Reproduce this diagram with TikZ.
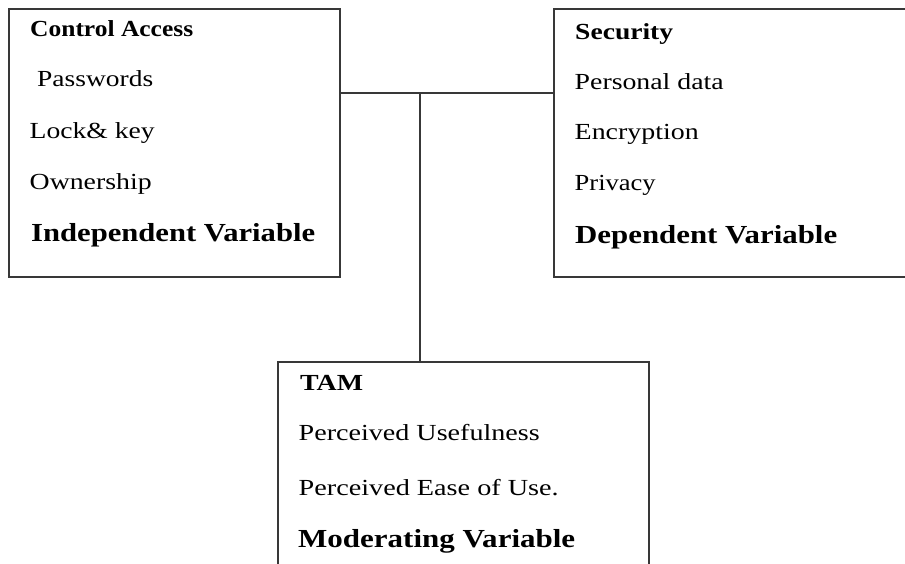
\documentclass[tikz,border=0pt]{standalone}
\usepackage{graphicx}
\usepackage{fontspec}
\setmainfont{Liberation Serif}
% stretch a line of text to a given width, keeping its height
\newcommand\wtext[2]{\resizebox{#1}{\height}{#2}}
\definecolor{edge}{HTML}{383838}
\tikzset{
  box/.style={draw=edge, line width=1.4pt, rectangle, inner sep=0pt},
  link/.style={draw=edge, line width=1.4pt},
  itm/.style={anchor=base west, inner sep=0pt, font=\fontsize{23}{27}\selectfont},
  hdr/.style={itm, font=\fontsize{23}{27}\selectfont\bfseries},
  var/.style={itm, font=\fontsize{26}{31}\selectfont\bfseries},
}
\begin{document}
\begin{tikzpicture}[x=1pt, y=1pt]
\useasboundingbox (0,0) rectangle (905,-563);
\clip (0,0) rectangle (905,-563);

% the three boxes
\node[box, minimum width=331pt, minimum height=268pt] (indep) at (174.5,-143) {};
\node[box, minimum width=450pt, minimum height=268pt] (dep) at (779,-143) {};
\node[box, minimum width=371pt, minimum height=260pt] (mod) at (463.5,-492) {};

% connectors
\coordinate (junc) at (420,-93);
\draw[link] (indep.east |- junc) -- (dep.west |- junc);
\draw[link] (junc) -- (mod.north -| junc);

% independent variable box
\node[hdr] (ca)  at (30,-36.7)  {\wtext{163pt}{Control Access}};
\node[itm] (pw)  at (37,-86.7)  {\wtext{116pt}{Passwords}};
\node[itm] (lk)  at (29.5,-138.3) {\wtext{125pt}{Lock\& key}};
\node[itm] (ow)  at (29.5,-189.3) {\wtext{122pt}{Ownership}};
\node[var] (iv)  at (31,-241.7) {\wtext{284pt}{Independent Variable}};

% dependent variable box
\node[hdr] (sec) at (575,-39)    {\wtext{98pt}{Security}};
\node[itm] (pd)  at (574.5,-89)  {\wtext{149pt}{Personal data}};
\node[itm] (enc) at (574.5,-139) {\wtext{124pt}{Encryption}};
\node[itm] (prv) at (574.5,-190.7) {\wtext{81pt}{Privacy}};
\node[var] (dv)  at (575,-243)   {\wtext{262pt}{Dependent Variable}};

% moderating variable box
\node[hdr] (tam) at (300,-390)   {\wtext{63pt}{TAM}};
\node[itm] (pu)  at (298.5,-440) {\wtext{241pt}{Perceived Usefulness}};
\node[itm] (pe)  at (298.5,-495) {\wtext{260pt}{Perceived Ease of Use.}};
\node[var] (mv)  at (298,-547.3) {\wtext{277pt}{Moderating Variable}};
\end{tikzpicture}
\end{document}
